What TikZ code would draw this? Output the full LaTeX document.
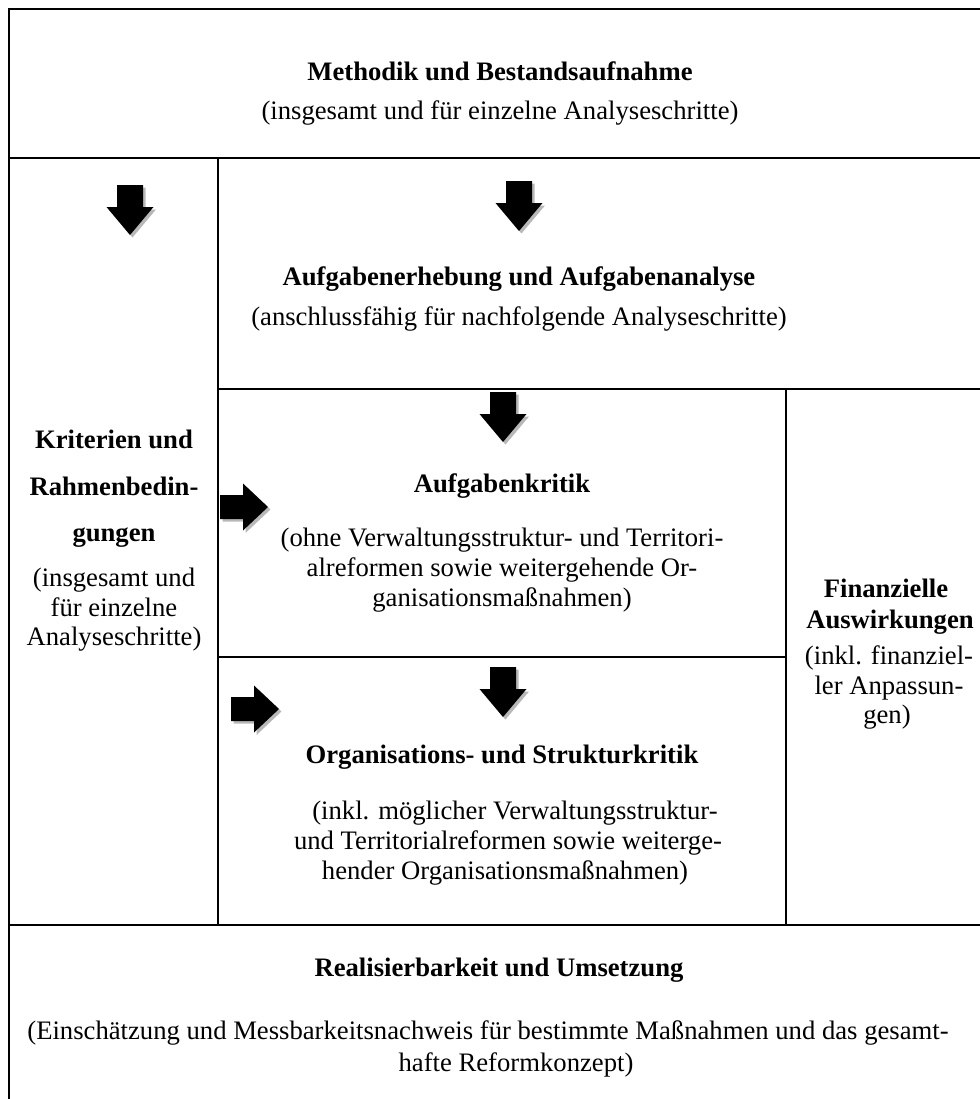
\documentclass[tikz,border=0pt]{standalone}
\usepackage{fontspec}
\setmainfont{Liberation Serif}
\begin{document}
\begin{tikzpicture}[x=0.45pt,y=-0.45pt,
  rule/.style={line width=0.9pt,line cap=rect},
  txt/.style={anchor=base,inner sep=0pt,font=\fontsize{12}{14}\selectfont},
  head/.style={txt,font=\fontsize{12}{14}\selectfont\bfseries},
  shade/.style={fill=black!28},
  pics/downarrow/.style={code={
    \fill[shade] (-10.5,2.5) -- (15.5,2.5) -- (15.5,24.5) -- (26,24.5) -- (2.5,52.5) -- (-21,24.5) -- (-10.5,24.5) -- cycle;
    \fill[black] (-13,0) -- (13,0) -- (13,22) -- (23.5,22) -- (0,50) -- (-23.5,22) -- (-13,22) -- cycle;}},
  pics/rightarrow/.style={code={
    \fill[shade] (2.5,-9.5) -- (25.5,-9.5) -- (25.5,-21) -- (50.5,2.5) -- (25.5,26) -- (25.5,14.5) -- (2.5,14.5) -- cycle;
    \fill[black] (0,-12) -- (23,-12) -- (23,-23.5) -- (48,0) -- (23,23.5) -- (23,12) -- (0,12) -- cycle;}}]

\useasboundingbox (0,0) rectangle (980,1099);
\clip (0,0) rectangle (980,1099);

% grid of the table
\coordinate (nw) at (9,9);
\coordinate (ne) at (992,9);
\coordinate (sw) at (9,1120);
\coordinate (se) at (992,1120);
\coordinate (r1l) at (9,158);
\coordinate (r1r) at (992,158);
\coordinate (c1t) at (218,158);
\coordinate (c1b) at (218,925);
\coordinate (r2l) at (218,389);
\coordinate (r2r) at (992,389);
\coordinate (c2t) at (786,389);
\coordinate (c2b) at (786,925);
\coordinate (r3l) at (218,657);
\coordinate (r3r) at (786,657);
\coordinate (r4l) at (9,925);
\coordinate (r4r) at (992,925);

\draw[rule] (sw) -- (nw) -- (ne) -- (se) -- cycle;
\draw[rule] (r1l) -- (r1r);
\draw[rule] (c1t) -- (c1b);
\draw[rule] (r2l) -- (r2r);
\draw[rule] (c2t) -- (c2b);
\draw[rule] (r3l) -- (r3r);
\draw[rule] (r4l) -- (r4r);

% block arrows
\pic (d1) at (130,185) {downarrow};
\pic (d2) at (519,181) {downarrow};
\pic (d3) at (503,392) {downarrow};
\pic (d4) at (503,667) {downarrow};
\pic (h1) at (220,507) {rightarrow};
\pic (h2) at (231,709) {rightarrow};

% top row
\node[head] (t1) at (500,80) {Methodik und Bestandsaufnahme};
\node[txt] (t1s) at (500,119) {(insgesamt und für einzelne Analyseschritte)};

% task survey
\node[head] (t2) at (519,285) {Aufgabenerhebung und Aufgabenanalyse};
\node[txt] (t2s) at (519,325) {(anschlussfähig für nachfolgende Analyseschritte)};

% left column
\node[head] (k1) at (114,448) {Kriterien und};
\node[head] (k2) at (114,495) {Rahmenbedin-};
\node[head] (k3) at (114,541) {gungen};
\node[txt] (k4) at (114,586) {(insgesamt und};
\node[txt] (k5) at (114,616) {für einzelne};
\node[txt] (k6) at (114,645) {Analyseschritte)};

% task critique
\node[head] (a1) at (502,492) {Aufgabenkritik};
\node[txt] (a2) at (502,546) {(ohne Verwaltungsstruktur- und Territori-};
\node[txt] (a3) at (502,576) {alreformen sowie weitergehende Or-};
\node[txt] (a4) at (502,606) {ganisationsmaßnahmen)};

% organisation critique
\node[head] (o1) at (502,763) {Organisations- und Strukturkritik};
\node[txt] (o2) at (515,819) {(inkl. möglicher Verwaltungsstruktur-};
\node[txt] (o3) at (508,849) {und Territorialreformen sowie weiterge-};
\node[txt] (o4) at (505,879) {hender Organisationsmaßnahmen)};

% right column
\node[head] (f1) at (886,597) {Finanzielle};
\node[head] (f2) at (890,628) {Auswirkungen};
\node[txt] (f3) at (889,664) {(inkl. finanziel-};
\node[txt] (f4) at (889,694) {ler Anpassun-};
\node[txt] (f5) at (887,723) {gen)};

% bottom row
\node[head] (b1) at (499,976) {Realisierbarkeit und Umsetzung};
\node[txt] (b2) at (488,1039) {(Einschätzung und Messbarkeitsnachweis für bestimmte Maßnahmen und das gesamt-};
\node[txt] (b3) at (516,1071) {hafte Reformkonzept)};
\end{tikzpicture}
\end{document}
